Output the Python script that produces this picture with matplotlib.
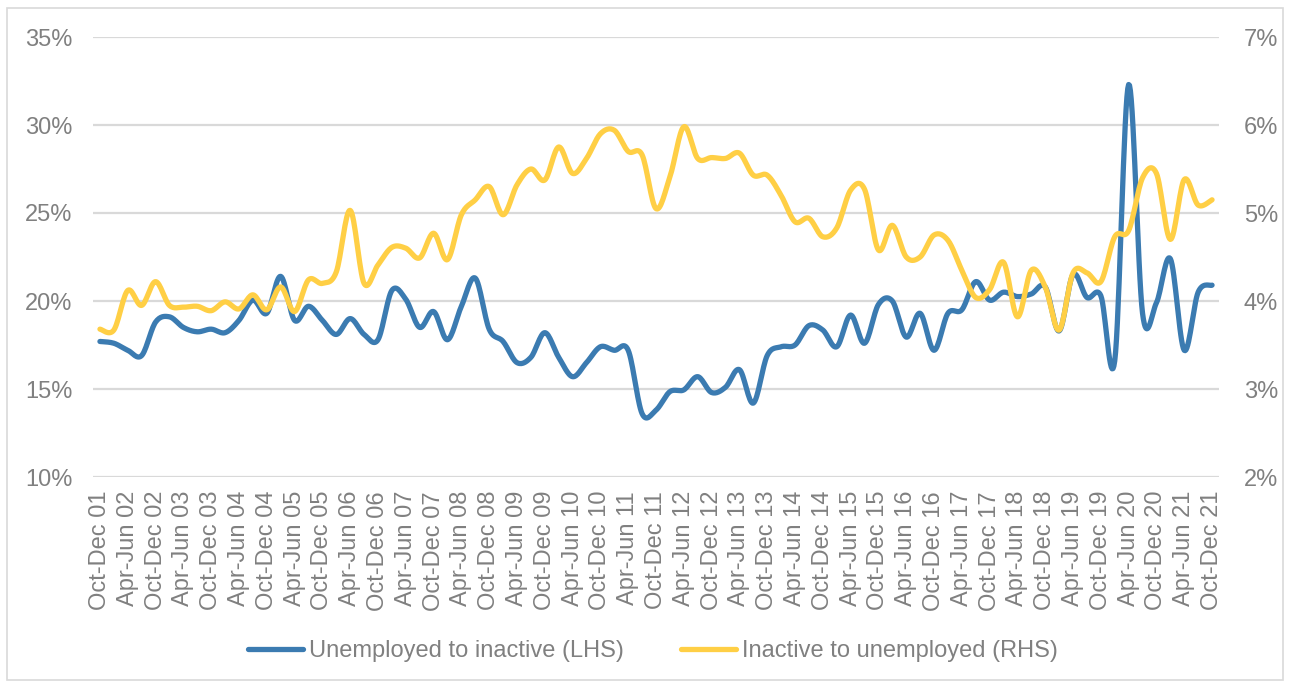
import numpy as np
import matplotlib
matplotlib.use("Agg")
import matplotlib.pyplot as plt
from matplotlib.patches import Rectangle

plt.rcParams["font.family"] = ["Liberation Sans", "DejaVu Sans"]

# Quarterly flow rates, Oct-Dec 2001 to Oct-Dec 2021
quarters = ["Jan-Mar", "Apr-Jun", "Jul-Sep", "Oct-Dec"]
periods = [f"{quarters[(3 + k) % 4]} {(1 + (3 + k) // 4):02d}" for k in range(81)]

# Unemployed to inactive, % (left axis)
unemp_to_inactive = [
    17.7, 17.6, 17.2, 16.9, 18.8, 19.1, 18.5, 18.25, 18.4, 18.2,
    18.9, 20.05, 19.3, 21.4, 18.9, 19.7, 18.9, 18.1, 19.0, 18.1,
    17.8, 20.6, 20.1, 18.5, 19.4, 17.8, 19.7, 21.3, 18.4, 17.7,
    16.5, 16.8, 18.2, 16.8, 15.7, 16.5, 17.4, 17.2, 17.2, 13.6,
    13.8, 14.85, 14.95, 15.7, 14.8, 15.1, 16.1, 14.2, 16.9, 17.4,
    17.5, 18.6, 18.35, 17.4, 19.2, 17.6, 19.8, 20.0, 17.95, 19.3,
    17.2, 19.3, 19.5, 21.1, 20.05, 20.5, 20.25, 20.4, 20.8, 18.3,
    21.5, 20.2, 20.3, 16.6, 32.3, 19.3, 19.9, 22.4, 17.2, 20.5,
    20.9,
]

# Inactive to unemployed, % (right axis)
inactive_to_unemp = [
    3.68, 3.67, 4.12, 3.95, 4.22, 3.95, 3.93, 3.94, 3.89, 3.99,
    3.91, 4.07, 3.9, 4.16, 3.88, 4.24, 4.2, 4.33, 5.03, 4.2,
    4.41, 4.61, 4.6, 4.49, 4.77, 4.47, 4.98, 5.15, 5.3, 4.98,
    5.32, 5.5, 5.375, 5.75, 5.45, 5.62, 5.9, 5.94, 5.7, 5.66,
    5.05, 5.41, 5.98, 5.62, 5.63, 5.62, 5.68, 5.43, 5.43, 5.2,
    4.9, 4.94, 4.73, 4.83, 5.26, 5.27, 4.58, 4.86, 4.5, 4.5,
    4.75, 4.69, 4.35, 4.04, 4.13, 4.44, 3.82, 4.35, 4.16, 3.67,
    4.32, 4.32, 4.22, 4.73, 4.8, 5.4, 5.45, 4.7, 5.38, 5.09,
    5.15,
]

lhs_ticks = [10, 15, 20, 25, 30, 35]
rhs_ticks = [2, 3, 4, 5, 6, 7]

GREY = "#808080"
BLUE = "#3b7bb1"
YELLOW = "#ffcf45"


def smooth(y, steps=16):
    # cubic bezier through every point, like a spreadsheet "smoothed line"
    y = np.asarray(y, dtype=float)
    x = np.arange(len(y), dtype=float)
    xp = np.concatenate([[x[0]], x, [x[-1]]])
    yp = np.concatenate([[y[0]], y, [y[-1]]])
    t = np.linspace(0, 1, steps, endpoint=False)[:, None]
    xs, ys = [], []
    for i in range(len(y) - 1):
        p0 = np.array([xp[i], yp[i]])
        p1 = np.array([xp[i + 1], yp[i + 1]])
        p2 = np.array([xp[i + 2], yp[i + 2]])
        p3 = np.array([xp[i + 3], yp[i + 3]])
        c1 = p1 + (p2 - p0) / 6
        c2 = p2 - (p3 - p1) / 6
        pts = ((1 - t) ** 3) * p1 + 3 * ((1 - t) ** 2) * t * c1 + 3 * (1 - t) * t ** 2 * c2 + t ** 3 * p2
        xs.append(pts[:, 0])
        ys.append(pts[:, 1])
    xs.append([x[-1]])
    ys.append([y[-1]])
    return np.concatenate(xs), np.concatenate(ys)


fig = plt.figure(figsize=(12.9, 6.84), dpi=100)
ax1 = fig.add_axes([93 / 1290, 1 - 477 / 684, (1219 - 93) / 1290, (477 - 37) / 684])
ax2 = ax1.twinx()

# light border round the whole chart
fig.patches.append(Rectangle((7 / 1290, 4 / 684), 1276 / 1290, 672 / 684, transform=fig.transFigure,
                             fill=False, edgecolor="#d9d9d9", linewidth=1.2))

for y in lhs_ticks:
    ax1.axhline(y, color="#d9d9d9", linewidth=1.6, zorder=0)

# secondary series sits on top of the primary one
bx, by = smooth(unemp_to_inactive)
yx, yy = smooth(inactive_to_unemp)
l1, = ax1.plot(bx, by, color=BLUE, linewidth=3.8, solid_capstyle="round", zorder=3,
               label="Unemployed to inactive (LHS)")
l2, = ax2.plot(yx, yy, color=YELLOW, linewidth=3.8, solid_capstyle="round", zorder=3,
               label="Inactive to unemployed (RHS)")

ax1.set_xlim(-0.5, len(periods) - 0.5)
ax1.set_ylim(10, 35)
ax2.set_ylim(2, 7)
ax1.set_yticks(lhs_ticks)
ax1.set_yticklabels([f"{v}%" for v in lhs_ticks])
ax2.set_yticks(rhs_ticks)
ax2.set_yticklabels([f"{v}%" for v in rhs_ticks])

idx = np.arange(0, len(periods), 2)
ax1.set_xticks(idx)
ax1.set_xticklabels([periods[i] for i in idx], rotation=90)

for ax in (ax1, ax2):
    for s in ax.spines.values():
        s.set_visible(False)
    ax.tick_params(length=0, labelsize=17, labelcolor=GREY)
ax1.tick_params(axis="y", pad=15)
ax2.tick_params(axis="y", pad=18)
ax1.tick_params(axis="x", pad=10)

fig.legend(handles=[l1, l2], loc="center", bbox_to_anchor=(0.506, 0.048), ncol=2, frameon=False,
           fontsize=17, labelcolor=GREY, handlelength=2.35, handletextpad=0.25, columnspacing=2.4)

fig.savefig("out.png", dpi=100)
